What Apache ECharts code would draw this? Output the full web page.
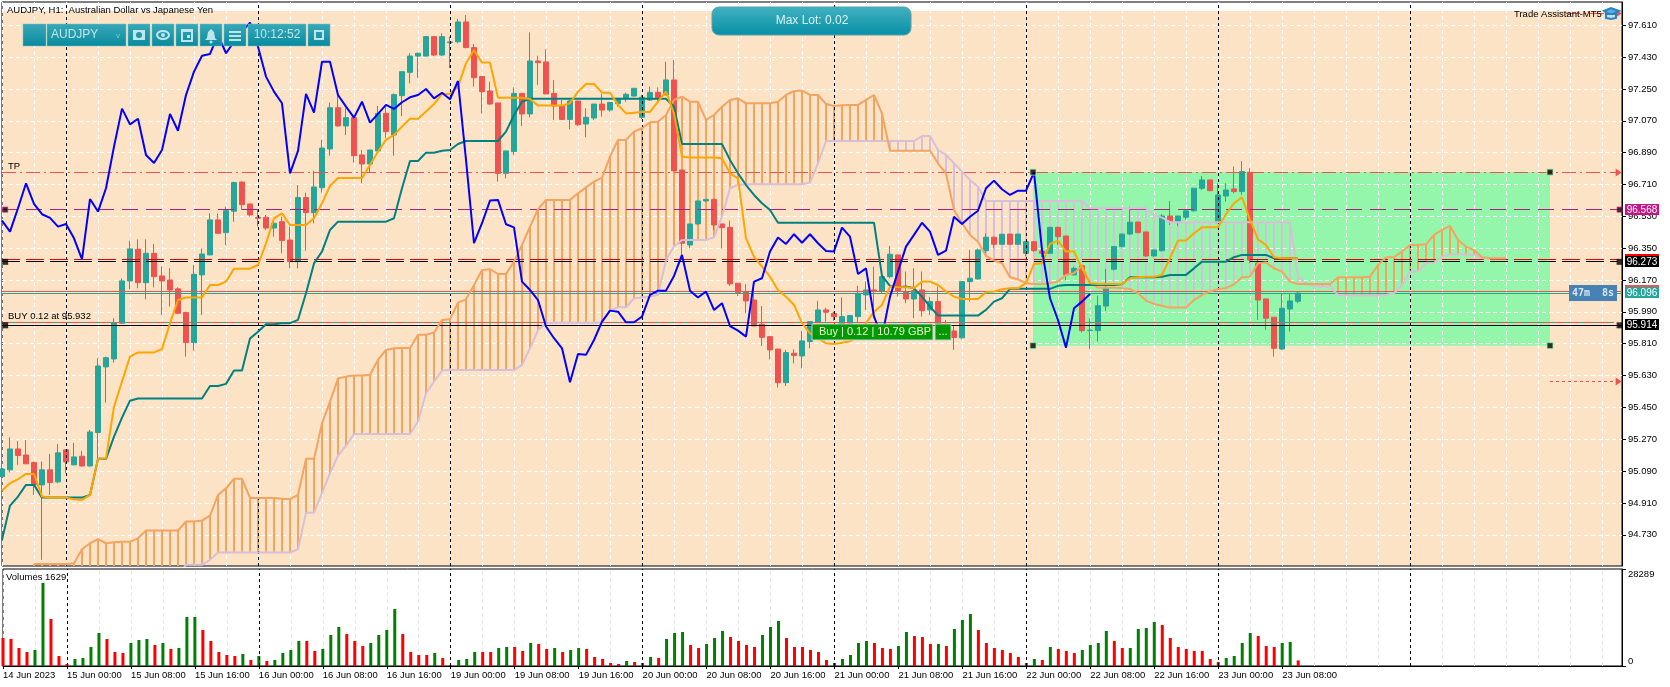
<!DOCTYPE html>
<html><head><meta charset="utf-8"><title>AUDJPY H1</title>
<style>html,body{margin:0;padding:0;background:#fff}#c{width:1670px;height:687px}</style>
<script src="https://cdn.jsdelivr.net/npm/echarts@6/dist/echarts.min.js"></script>
</head><body><div id="c"></div>
<script>
// ---------- values ----------
const priceTicks=[97.61,97.43,97.25,97.07,96.89,96.71,96.53,96.35,96.17,95.99,95.81,95.63,95.45,95.27,95.09,94.91,94.73];
const timeLabels=['14 Jun 2023','15 Jun 00:00','15 Jun 08:00','15 Jun 16:00','16 Jun 00:00','16 Jun 08:00','16 Jun 16:00','19 Jun 00:00','19 Jun 08:00','19 Jun 16:00','20 Jun 00:00','20 Jun 08:00','20 Jun 16:00','21 Jun 00:00','21 Jun 08:00','21 Jun 16:00','22 Jun 00:00','22 Jun 08:00','22 Jun 16:00','23 Jun 00:00','23 Jun 08:00'];
const dayBreaks=[8,32,56,80,104,128,152,176];
// open, close, low, high
const candles=[
[95.059,95.102,95.040,95.115],[95.097,95.215,95.082,95.281],[95.215,95.178,95.125,95.260],[95.181,95.131,95.131,95.266],[95.138,95.012,94.955,95.144],
[95.012,95.097,94.588,95.144],[95.097,95.025,94.955,95.187],[95.029,95.193,95.021,95.243],[95.210,95.142,95.078,95.210],[95.125,95.170,95.125,95.249],
[95.174,95.119,95.115,95.204],[95.119,95.311,95.115,95.323],[95.308,95.684,95.163,95.728],[95.679,95.731,95.477,95.737],[95.724,95.929,95.703,95.954],
[95.926,96.165,95.922,96.180],[96.165,96.346,96.118,96.393],[96.344,96.155,96.123,96.400],[96.155,96.321,96.061,96.400],[96.321,96.189,96.129,96.374],
[96.193,96.165,95.973,96.246],[96.170,96.114,96.020,96.236],[96.120,95.982,95.982,96.129],[95.986,95.816,95.737,95.991],[95.816,96.202,95.771,96.255],
[96.199,96.317,95.973,96.349],[96.312,96.510,96.312,96.547],[96.510,96.434,96.434,96.547],[96.438,96.562,96.368,96.585],[96.559,96.721,96.500,96.726],
[96.724,96.596,96.566,96.726],[96.600,96.538,96.528,96.600],[96.525,96.519,96.472,96.566],[96.525,96.464,96.453,96.538],[96.464,96.491,96.415,96.519],
[96.500,96.393,96.321,96.528],[96.396,96.274,96.236,96.472],[96.274,96.636,96.236,96.707],[96.636,96.551,96.336,96.664],[96.551,96.696,96.491,96.788],
[96.692,96.916,96.664,96.962],[96.911,97.144,96.873,97.173],[97.144,97.041,97.037,97.225],[97.041,97.088,96.990,97.141],[97.088,96.873,96.834,97.094],
[96.877,96.826,96.717,96.905],[96.826,96.905,96.779,96.905],[96.900,97.112,96.886,97.154],[97.112,97.009,96.971,97.150],[96.990,97.218,96.873,97.225],
[97.212,97.348,97.097,97.348],[97.344,97.436,97.282,97.452],[97.436,97.452,97.314,97.455],[97.436,97.546,97.433,97.546],[97.546,97.442,97.436,97.546],
[97.442,97.546,97.436,97.565],[97.512,97.516,97.367,97.546],[97.517,97.629,97.508,97.646],[97.629,97.484,97.480,97.668],[97.484,97.314,97.263,97.504],
[97.320,97.235,97.112,97.320],[97.239,97.165,97.160,97.291],[97.171,96.773,96.726,97.171],[96.773,96.900,96.745,96.900],[96.896,97.225,96.877,97.259],
[97.225,97.109,97.041,97.225],[97.109,97.408,97.090,97.570],[97.408,97.399,97.273,97.438],[97.403,97.222,97.222,97.474],[97.225,97.154,97.075,97.301],
[97.154,97.078,97.078,97.188],[97.078,97.182,97.022,97.188],[97.182,97.048,97.041,97.182],[97.052,97.090,96.977,97.141],[97.086,97.165,97.075,97.165],
[97.165,97.131,97.094,97.222],[97.131,97.173,97.122,97.173],[97.167,97.197,97.150,97.197],[97.197,97.220,97.178,97.229],[97.210,97.254,97.207,97.254],
[97.090,97.203,97.080,97.216],[97.188,97.231,97.182,97.263],[97.231,97.197,97.178,97.259],[97.216,97.301,97.216,97.404],[97.301,96.787,96.787,97.414],
[96.792,96.378,96.312,96.792],[96.368,96.487,96.349,96.487],[96.487,96.617,96.481,96.617],[96.617,96.626,96.611,96.626],[96.626,96.481,96.453,96.626],
[96.487,96.466,96.349,96.487],[96.468,96.148,96.137,96.506],[96.152,96.099,96.080,96.152],[96.105,96.052,95.982,96.146],[96.057,95.910,95.910,96.161],
[95.920,95.846,95.797,96.023],[95.850,95.775,95.722,95.850],[95.780,95.590,95.562,95.780],[95.590,95.760,95.571,95.775],[95.756,95.743,95.699,95.779],
[95.741,95.826,95.671,95.882],[95.822,95.935,95.784,95.935],[95.929,96.001,95.929,96.052],[96.001,95.988,95.935,96.014],[95.982,95.963,95.940,95.991],
[95.907,95.963,95.888,96.072],[95.926,95.969,95.907,95.973],[95.963,96.095,95.926,96.137],[96.086,96.114,96.001,96.161],[96.114,96.108,95.982,96.246],
[96.105,96.189,96.095,96.199],[96.189,96.316,96.180,96.363],[96.312,96.110,96.076,96.312],[96.105,96.063,96.039,96.218],[96.063,96.110,95.954,96.236],
[96.114,95.997,95.963,96.218],[96.001,96.048,95.973,96.076],[96.048,95.910,95.897,96.133],[95.916,95.882,95.860,95.944],[95.882,95.845,95.775,95.916],
[95.843,96.161,95.835,96.161],[96.161,96.180,96.048,96.340],[96.176,96.340,96.174,96.349],[96.336,96.412,96.321,96.434],[96.412,96.372,96.349,96.415],
[96.372,96.429,96.372,96.429],[96.430,96.372,96.372,96.430],[96.372,96.430,96.372,96.430],[96.321,96.387,96.306,96.387],[96.387,96.336,96.330,96.387],
[96.334,96.321,96.300,96.340],[96.321,96.468,96.321,96.468],[96.468,96.415,96.368,96.472],[96.419,96.199,96.170,96.419],[96.199,96.236,96.199,96.245],
[96.251,95.884,95.873,96.251],[95.884,95.886,95.779,95.954],[95.884,96.025,95.822,96.082],[96.023,96.123,95.995,96.233],[96.231,96.359,96.223,96.359],
[96.359,96.430,96.355,96.430],[96.430,96.497,96.425,96.585],[96.498,96.438,96.434,96.498],[96.442,96.306,96.302,96.442],[96.306,96.340,96.302,96.340],
[96.336,96.532,96.332,96.543],[96.532,96.500,96.481,96.617],[96.500,96.532,96.476,96.532],[96.525,96.561,96.510,96.561],[96.561,96.689,96.557,96.689],
[96.689,96.736,96.679,96.758],[96.736,96.675,96.673,96.736],[96.494,96.651,96.494,96.717],[96.645,96.679,96.613,96.717],[96.685,96.670,96.660,96.811],
[96.670,96.783,96.651,96.843],[96.779,96.283,96.265,96.802],[96.265,96.057,95.944,96.287],[96.063,95.954,95.888,96.063],[95.960,95.784,95.737,95.960],
[95.780,96.010,95.775,96.091],[96.006,96.052,95.878,96.091],[96.050,96.096,96.039,96.105]];
const tenkan=[94.980,95.021,95.044,95.074,95.074,94.946,94.940,94.940,94.940,94.931,
94.927,94.955,95.159,95.162,95.454,95.596,95.737,95.761,95.761,95.761,
95.780,95.926,96.057,96.071,96.071,96.071,96.142,96.142,96.161,96.234,
96.234,96.234,96.255,96.378,96.519,96.547,96.481,96.481,96.481,96.519,
96.604,96.702,96.747,96.747,96.747,96.747,96.820,96.896,96.962,96.990,
97.037,97.082,97.082,97.122,97.165,97.222,97.222,97.263,97.395,97.470,
97.399,97.399,97.201,97.201,97.201,97.201,97.193,97.156,97.156,97.156,
97.156,97.169,97.235,97.278,97.278,97.229,97.229,97.160,97.112,97.116,
97.120,97.120,97.178,97.235,97.112,96.868,96.862,96.862,96.862,96.862,
96.858,96.773,96.745,96.406,96.302,96.246,96.189,96.114,96.076,96.029,
95.926,95.869,95.841,95.812,95.809,95.816,95.824,95.850,95.926,95.991,
96.029,96.133,96.129,96.129,96.125,96.161,96.161,96.142,96.105,96.076,
96.063,96.063,96.063,96.101,96.105,96.118,96.123,96.123,96.152,96.261,
96.265,96.374,96.393,96.331,96.331,96.236,96.152,96.148,96.148,96.148,
96.148,96.180,96.186,96.189,96.189,96.199,96.293,96.393,96.393,96.434,
96.468,96.468,96.468,96.543,96.604,96.638,96.510,96.400,96.368,96.299,
96.293,96.293,96.293];
const kijun=[94.701,94.895,94.946,95.012,95.012,94.940,94.940,94.940,94.940,94.940,
94.940,94.955,95.159,95.159,95.285,95.392,95.488,95.500,95.500,95.500,
95.500,95.500,95.500,95.500,95.500,95.500,95.571,95.571,95.583,95.658,
95.658,95.839,95.878,95.920,95.920,95.926,95.926,95.945,96.095,96.264,
96.331,96.453,96.500,96.500,96.500,96.500,96.500,96.500,96.500,96.519,
96.689,96.843,96.843,96.890,96.890,96.901,96.905,96.939,96.956,96.956,
96.956,96.956,96.956,97.009,97.103,97.178,97.195,97.195,97.195,97.195,
97.195,97.195,97.195,97.195,97.195,97.195,97.195,97.195,97.195,97.195,
97.195,97.195,97.195,97.195,97.150,96.939,96.939,96.939,96.939,96.939,
96.939,96.849,96.773,96.707,96.651,96.604,96.566,96.494,96.494,96.494,
96.494,96.494,96.494,96.494,96.494,96.494,96.494,96.494,96.494,96.494,
96.193,96.137,96.129,96.133,96.123,96.076,96.020,95.969,95.969,95.969,
95.969,95.969,95.969,96.001,96.048,96.067,96.120,96.120,96.120,96.120,
96.120,96.120,96.137,96.142,96.142,96.142,96.142,96.142,96.142,96.142,
96.146,96.186,96.186,96.186,96.186,96.189,96.199,96.199,96.199,96.236,
96.274,96.274,96.274,96.274,96.299,96.312,96.312,96.312,96.312,96.293,
96.293,96.293,96.293];
const chikou=[96.506,96.444,96.576,96.717,96.600,96.542,96.521,96.472,96.487,96.406,
96.287,96.628,96.557,96.689,96.924,97.139,97.050,97.082,96.877,96.832,
96.905,97.109,97.014,97.216,97.348,97.438,97.448,97.555,97.452,97.517,
97.574,97.625,97.489,97.320,97.235,97.169,96.773,96.900,97.222,97.116,
97.404,97.404,97.216,97.150,97.088,97.178,97.060,97.109,97.160,97.137,
97.175,97.203,97.216,97.250,97.197,97.229,97.192,97.295,96.849,96.378,
96.491,96.619,96.623,96.485,96.468,96.161,96.114,96.057,95.907,95.841,
95.784,95.592,95.752,95.747,95.831,95.935,95.997,95.991,95.931,95.931,
95.963,96.086,96.110,96.110,96.193,96.312,96.110,96.071,96.105,96.001,
96.039,95.910,95.884,95.850,96.161,96.180,96.331,96.410,96.374,96.429,
96.381,96.429,96.378,96.334,96.331,96.466,96.415,96.204,96.236,95.963,
95.850,96.076,96.218,96.359,96.425,96.494,96.444,96.312,96.336,96.528,
96.487,96.528,96.562,96.689,96.732,96.683,96.651,96.675,96.675,96.779,
96.340,96.067,95.944,95.788,96.010,96.048,96.091];
const senkouA=[null,null,null,null,94.565,94.565,94.565,94.565,94.565,94.569,
94.648,94.682,94.705,94.682,94.688,94.691,94.691,94.710,94.754,94.754,
94.754,94.754,94.754,94.805,94.805,94.810,94.838,94.955,94.993,95.046,
95.046,94.938,94.938,94.938,94.938,94.934,94.931,94.955,95.159,95.159,
95.360,95.483,95.613,95.624,95.630,95.630,95.634,95.718,95.775,95.784,
95.786,95.786,95.860,95.860,95.873,95.944,95.948,96.042,96.061,96.142,
96.227,96.231,96.204,96.204,96.274,96.368,96.472,96.570,96.623,96.623,
96.623,96.623,96.660,96.694,96.726,96.749,96.868,96.962,96.962,97.009,
97.028,97.062,97.065,97.103,97.188,97.207,97.178,97.178,97.075,97.103,
97.150,97.188,97.197,97.169,97.169,97.169,97.169,97.178,97.216,97.239,
97.241,97.216,97.216,97.165,97.154,97.158,97.160,97.160,97.188,97.216,
97.112,96.901,96.901,96.901,96.901,96.901,96.901,96.830,96.773,96.566,
96.491,96.425,96.387,96.306,96.280,96.265,96.186,96.174,96.152,96.148,
96.148,96.152,96.161,96.199,96.208,96.250,96.152,96.127,96.127,96.127,
96.123,96.120,96.095,96.054,96.035,96.025,96.014,96.014,96.014,96.057,
96.086,96.105,96.120,96.123,96.146,96.186,96.189,96.265,96.270,96.236,
96.218,96.161,96.148,96.148,96.148,96.148,96.148,96.186,96.186,96.186,
96.186,96.189,96.255,96.299,96.299,96.331,96.368,96.368,96.372,96.425,
96.453,96.476,96.396,96.359,96.340,96.299,96.293,96.293,96.293];
const senkouB=[94.50,94.50,94.50,94.50,94.50,94.50,94.50,94.50,94.50,94.50,
94.50,94.50,94.50,94.50,94.50,94.50,94.50,94.50,94.50,94.50,
94.50,94.50,94.50,94.560,94.560,94.560,94.588,94.630,94.630,94.630,
94.630,94.630,94.630,94.630,94.630,94.630,94.630,94.648,94.855,94.855,
94.965,95.078,95.178,95.234,95.300,95.300,95.300,95.300,95.300,95.300,
95.300,95.300,95.370,95.530,95.596,95.658,95.661,95.661,95.661,95.661,
95.661,95.661,95.661,95.661,95.661,95.690,95.784,95.888,95.926,95.929,
95.929,95.929,95.929,95.929,95.929,95.929,95.997,96.016,96.016,96.067,
96.071,96.076,96.086,96.283,96.359,96.396,96.396,96.396,96.396,96.411,
96.528,96.689,96.707,96.711,96.711,96.711,96.711,96.711,96.711,96.711,
96.711,96.721,96.830,96.956,96.956,96.956,96.956,96.956,96.956,96.956,
96.956,96.956,96.956,96.956,96.956,96.984,96.984,96.905,96.877,96.830,
96.783,96.736,96.698,96.617,96.617,96.617,96.617,96.617,96.617,96.617,
96.617,96.617,96.617,96.617,96.617,96.617,96.576,96.576,96.576,96.576,
96.576,96.576,96.576,96.576,96.538,96.523,96.497,96.497,96.497,96.497,
96.497,96.497,96.497,96.497,96.497,96.497,96.497,96.497,96.497,96.497,
96.497,96.497,96.189,96.148,96.138,96.133,96.133,96.086,96.082,96.082,
96.082,96.082,96.082,96.086,96.095,96.142,96.218,96.218,96.268,96.268,
96.302,96.316,96.316,96.314,96.312,96.293,96.293,96.293,96.293];
const volumes=[8165,7873,5249,4082,4666,24203,13705,2916,583,2041,
2333,5540,9623,7873,4082,3791,6707,7582,7873,6124,
6707,4957,5249,14288,14288,10498,7290,4082,3208,2916,
3499,1750,2916,1458,1750,3791,4666,7290,7290,4374,
4957,9040,11372,9331,7290,5832,6707,9040,10498,16621,
9331,4082,3208,3208,3791,2333,292,1750,2041,4082,
4082,4082,5249,5540,5540,4374,6707,6415,4957,5249,
4082,4666,5249,4957,2624,2041,875,583,1458,1166,
875,2624,2333,7873,9623,9914,6124,5249,6415,8165,
10206,8456,7290,6124,5540,9040,11372,13122,8165,5540,
5540,4666,4082,1750,875,2041,3208,6707,7290,6707,
5249,4957,5832,9914,8748,8456,6415,6415,5832,10789,
13414,15163,10498,6707,5249,4666,3791,2624,875,2041,
1750,5540,4957,4374,3791,4666,6124,6707,10206,7290,
5249,5249,10789,11081,12830,11956,8165,5540,4957,4374,
4374,2041,1166,2333,2916,6707,9623,8748,5832,5540,
6707,6998,1629];
const volumeTrend='rrrrggrrrg'+'gggrrrgggr'+'grgggrrrrr'+'grgrggggrr'+'gggrrrgggg'+'rrrrgrrggg'+'rrggrrgrrg'+'rggrrrrrgr'+'rgrgggrrgg'+'grrrrgggrr'+'rrrrrggggr'+'rrggrrrgrg'+'ggrrrrrrrg'+'rgrrrggggr'+'rggggrrrrr'+'rrrggggrrr'+'ggr';
const tpPrice=96.78, tpUpperPrice=97.674, slPrice=95.599, floorPrice=95.799;
const pivotPrice=96.568, blackPrice=96.273, redPrice=96.286;
const askPrice=96.107, bidPrice=96.096, entryPrice=95.932, positionPrice=95.914;
const boxFrom=128.875, boxTo=193.5;
const volumeAxisMax=28289;

// ---------- axis frames ----------
const yMin=94.5534,yMax=97.7417,xMax=202.5,peachTop=97.691;
const font='"Liberation Sans",Arial,sans-serif';
const UP='#26A69A',DOWN='#EF5350';

const pts=a=>a.map((v,i)=>v==null?null:[i,v]).filter(Boolean);
function ind(name,arr,color,z){return {name,type:'line',data:pts(arr),showSymbol:false,symbol:'none',z,xAxisIndex:0,yAxisIndex:0,
  lineStyle:{color,width:2},itemStyle:{color},animation:false,silent:true,clip:true};}
function level(price,from,to,color,dash,width,arrow,z){
  return {type:'custom',z:z||5,silent:true,xAxisIndex:0,yAxisIndex:0,data:[[from,price,to]],encode:{x:[0,2],y:1},
    renderItem(p,api){
      const a=api.coord([api.value(0),api.value(1)]),b=api.coord([api.value(2),api.value(1)]);
      const y=Math.floor(a[1])+0.5;
      const children=[{type:'line',shape:{x1:a[0],y1:y,x2:b[0],y2:y},style:{stroke:color,lineWidth:width||1,lineDash:dash||null,fill:null}}];
      if(arrow)children.push({type:'polygon',shape:{points:[[b[0]-4,y-4],[b[0]+2,y],[b[0]-4,y+4]]},style:{fill:color}});
      return {type:'group',children};
    }};
}
function rectSeries(rows,z,color){return {type:'custom',z,silent:true,xAxisIndex:0,yAxisIndex:0,clip:true,data:rows,
  encode:{x:[0,2],y:[1,3]},renderItem(p,api){
    const a=api.coord([api.value(0),api.value(1)]),b=api.coord([api.value(2),api.value(3)]);
    return {type:'rect',shape:{x:a[0],y:a[1],width:b[0]-a[0],height:b[1]-a[1]},style:{fill:color}};}};}

const hatchRows=senkouB.map((b,i)=>[i,senkouA[i]==null?null:senkouA[i],b]).filter(r=>r[1]!=null&&Math.abs(r[1]-r[2])>0.0005);
const gridDash=[4,3];
const volGridMarks=[];for(let i=0;i<=200;i+=4){if(!dayBreaks.includes(i))volGridMarks.push({xAxis:i,lineStyle:{color:'#E6E6E6',type:[4,3],width:1}});}
const dayMarks=dayBreaks.map(d=>({xAxis:d,lineStyle:{color:'#000',type:[3,3],width:1}}));
const timeIdx=timeLabels.map((_,i)=>i*8);

const option={animation:false,backgroundColor:'#fff',
 grid:[{left:2,top:2,width:1620,height:564,show:true,borderColor:'#000',borderWidth:1,backgroundColor:'transparent'},
       {left:2,top:569,width:1620,height:97,show:true,borderColor:'#000',borderWidth:1,backgroundColor:'transparent'}],
 xAxis:[
  {type:'value',gridIndex:0,min:0,max:xMax,interval:4,axisLine:{show:false},axisTick:{show:false},axisLabel:{show:false},
   splitLine:{show:true,lineStyle:{color:'#fff',type:gridDash,width:1}}},
  {type:'value',gridIndex:1,min:0,max:xMax,axisLine:{show:true,onZero:false,lineStyle:{color:'#000'}},
   axisTick:{show:true,length:3,customValues:timeIdx,lineStyle:{color:'#000'}},splitLine:{show:false},
   axisLabel:{show:true,customValues:timeIdx,margin:4,align:'left',color:'#000',fontFamily:font,fontSize:9.5,hideOverlap:false,showMinLabel:true,showMaxLabel:true,
     formatter:v=>timeLabels[Math.round(v/8)]||''}}
 ],
 yAxis:[
  {type:'value',gridIndex:0,position:'right',min:yMin,max:yMax,axisLine:{show:true,onZero:false,lineStyle:{color:'#000'}},
   axisTick:{show:true,length:4,customValues:priceTicks,lineStyle:{color:'#000'}},
   axisLabel:{show:true,customValues:priceTicks,margin:6,color:'#000',fontFamily:font,fontSize:9.5,formatter:v=>v.toFixed(3)},
   splitLine:{show:true,lineStyle:{color:'#fff',type:gridDash,width:1}}},
  {type:'value',gridIndex:1,position:'right',min:0,max:volumeAxisMax,axisLine:{show:true,onZero:false,lineStyle:{color:'#000'}},
   axisTick:{show:true,length:4,customValues:[0,volumeAxisMax],lineStyle:{color:'#000'}},splitLine:{show:false},
   axisLabel:{show:true,customValues:[0,volumeAxisMax],margin:6,color:'#000',fontFamily:font,fontSize:9.5,verticalAlignMinLabel:'bottom',verticalAlignMaxLabel:'top',formatter:v=>String(v)}}
 ],
 series:[
  rectSeries([[0,peachTop,xMax,yMin]],-3,'#FDE3C5'),
  rectSeries([[boxFrom,tpPrice,boxTo,floorPrice]],-2,'#94F6AB'),
  {type:'custom',z:2,silent:true,xAxisIndex:0,yAxisIndex:0,clip:true,data:hatchRows,encode:{x:0,y:[1,2]},
   renderItem(p,api){const a=api.coord([api.value(0),api.value(1)]),b=api.coord([api.value(0),api.value(2)]);
     const up=api.value(1)>api.value(2);
     return {type:'rect',shape:{x:Math.round(a[0])-1,y:Math.min(a[1],b[1]),width:2,height:Math.abs(a[1]-b[1])},style:{fill:up?'#F4A460':'#D8BFD8'}};}},
  {type:'candlestick',z:3,silent:true,xAxisIndex:0,yAxisIndex:0,barWidth:5,encode:{x:0,y:[1,2,3,4]},
   data:candles.map((c,i)=>[i,c[0],c[1],c[2],c[3]]),
   itemStyle:{color:UP,color0:DOWN,borderColor:UP,borderColor0:DOWN,borderWidth:1},
   markLine:{silent:true,symbol:'none',label:{show:false},animation:false,data:dayMarks}},
  level(pivotPrice,0,202,'#B0207F',[16,8]),
  level(redPrice,0,202,'#E00000',[18,6]),
  level(blackPrice,0,202,'#000',[18,6]),
  level(askPrice,0,xMax,DOWN),
  level(bidPrice,0,xMax,UP),
  level(entryPrice,0,xMax-1,UP),
  level(entryPrice,0,xMax-1,DOWN,[9,5]),
  level(positionPrice,0,xMax,'#000'),
  level(tpPrice,0,202.2,DOWN,[14,4,2,4],1,true),
  level(tpUpperPrice,boxTo+2,202.2,DOWN,[14,4,2,4],1,true),
  level(slPrice,boxTo,202.2,DOWN,[3,3],1,true),
  ind('senkouB',senkouB,'#D8BFD8',6),
  ind('senkouA',senkouA,'#F4A460',6),
  ind('kijun',kijun,'#008080',7),
  ind('tenkan',tenkan,'#FFA500',7),
  ind('chikou',chikou,'#0000FF',8),
  {type:'scatter',z:9,silent:true,xAxisIndex:0,yAxisIndex:0,symbol:'rect',symbolSize:6,itemStyle:{color:'#000',borderColor:'#94F6AB',borderWidth:1},
   data:[[boxFrom,tpPrice],[boxTo,tpPrice],[boxFrom,floorPrice],[boxTo,floorPrice]]},
  {type:'scatter',z:9,silent:true,xAxisIndex:0,yAxisIndex:0,symbol:'rect',symbolSize:6,clip:false,itemStyle:{color:'#000'},
   data:[[0.4,blackPrice],[0.4,positionPrice],[202.2,blackPrice],[202.2,positionPrice]]},
  {type:'scatter',z:9,silent:true,xAxisIndex:0,yAxisIndex:0,symbol:'rect',symbolSize:5,itemStyle:{color:'#000',borderColor:'#C71585',borderWidth:1},
   data:[[0.4,pivotPrice],[202.2,pivotPrice]]},
  {type:'line',xAxisIndex:1,yAxisIndex:1,z:1,silent:true,symbol:'none',showSymbol:false,lineStyle:{opacity:0},data:[[0,0]],
   markLine:{z:1,silent:true,symbol:'none',label:{show:false},animation:false,data:volGridMarks}},
  {type:'bar',xAxisIndex:1,yAxisIndex:1,barWidth:3,silent:true,z:3,
   data:volumes.map((v,i)=>({value:[i,v],itemStyle:{color:volumeTrend[i]==='g'?'#008000':'#FF0000'}})),
   markLine:{silent:true,symbol:'none',label:{show:false},animation:false,data:dayMarks}}
 ]
};
const chart=echarts.init(document.getElementById('c'),null,{renderer:'canvas'});
chart.setOption(option);

// ---------- platform widgets drawn over the chart ----------
const py=p=>chart.convertToPixel({xAxisIndex:0,yAxisIndex:0},[0,p])[1];
const Z=100;
function tag(price,bg,strip){const y=Math.round(py(price)),out=[
  {type:'rect',z:Z,silent:true,shape:{x:1625,y:y-6,width:34,height:11},style:{fill:bg}},
  {type:'text',z:Z+1,silent:true,x:1642,y:y,style:{text:price.toFixed(3),fill:'#fff',font:'10px '+font,align:'center',verticalAlign:'middle'}}];
  if(strip)out.push({type:'rect',z:Z,silent:true,shape:{x:1625,y:y-8,width:34,height:2},style:{fill:strip}});
  return out;}
const tealGrad={type:'linear',x:0,y:0,x2:0,y2:1,colorStops:[{offset:0,color:'#38A9B8'},{offset:1,color:'#0A8A9E'}]};
const light='#BFE6EA';
function cell(x,w){return {type:'rect',z:Z,silent:true,shape:{x,y:24,width:w,height:22},style:{fill:tealGrad,stroke:'#6FC0CB',lineWidth:0.5}};}
const txt=(s,x,y,size,fill,align,extra)=>Object.assign({type:'text',z:Z+1,silent:true,x,y,style:{text:s,fill,font:size+'px '+font,align:align||'left',verticalAlign:'middle'}},extra||{});
const shape=(type,sh,fill,stroke)=>({type,z:Z+1,silent:true,shape:sh,style:{fill:fill||'none',stroke:stroke||null,lineWidth:stroke?2:0}});
const widgets=[
  txt('AUDJPY, H1:  Australian Dollar vs Japanese Yen',7,10,9.5,'#000'),
  txt('TP',8,166,9.5,'#000'),
  txt('BUY 0.12 at 95.932',8,316,9.5,'#000'),
  txt('Volumes 1629',6,577,9.5,'#000'),
  txt('Trade Assistant-MT5',1514,14,9.5,'#000'),
  // graduation cap
  shape('polygon',{points:[[1604,11],[1611,8],[1619,11],[1611,15]]},'#5AAEE0','#2B82C0'),
  shape('polygon',{points:[[1606,14],[1616,14],[1616,18],[1611,19],[1606,18]]},'#BFE0F5','#2B82C0'),
  // toolbar
  cell(23,23),cell(47,79),cell(128,22),cell(152,22),cell(176,22),cell(200,22),cell(224,22),cell(248,58),cell(308,22),
  txt('AUDJPY',51,35,12,light),
  txt('v',118,36,8,'#7CC8D2','center'),
  txt('10:12:52',277,35,12,light,'center'),
  // camera
  shape('rect',{x:133,y:30,width:12,height:10},light),shape('circle',{cx:139,cy:35,r:3},'#1E97A9'),
  // eye
  shape('ellipse',{cx:163,cy:35,rx:6,ry:4},'none',light),shape('circle',{cx:163,cy:35,r:2},light),
  // calendar
  shape('rect',{x:182,y:30,width:10,height:11},'none',light),shape('rect',{x:182,y:29,width:10,height:3},light),shape('rect',{x:187,y:35,width:3,height:3},light),
  // bell
  shape('polygon',{points:[[211,29],[214,32],[215,38],[217,40],[205,40],[207,38],[208,32]]},light),shape('circle',{cx:211,cy:42,r:1.5},light),
  // menu
  shape('rect',{x:229,y:31,width:12,height:2},light),shape('rect',{x:229,y:35,width:12,height:2},light),shape('rect',{x:229,y:39,width:12,height:2},light),
  // window
  shape('rect',{x:315,y:31,width:8,height:8},'none',light),
  // Max Lot button
  {type:'rect',z:Z,silent:true,shape:{x:712,y:7,width:199,height:28,r:7},style:{fill:{type:'linear',x:0,y:0,x2:0,y2:1,colorStops:[{offset:0,color:'#42B2C0'},{offset:1,color:'#078FA5'}]},stroke:'#5A9FAA',lineWidth:1}},
  txt('Max Lot: 0.02',812,21,12,'#D8F2F4','center'),
  // trade label
  {type:'rect',z:Z,silent:true,shape:{x:812,y:324,width:121,height:16},style:{fill:'#009A00',stroke:'#C6CDD2',lineWidth:1}},
  txt('Buy | 0.12 | 10.79 GBP',819,332,11,'#F0F5D8'),
  {type:'rect',z:Z,silent:true,shape:{x:935,y:324,width:16,height:16},style:{fill:'#009A00',stroke:'#C6CDD2',lineWidth:1}},
  txt('...',943,332,11,'#F0F5D8','center'),
  // countdown
  {type:'rect',z:Z,silent:true,shape:{x:1569,y:285,width:48,height:16},style:{fill:'#4682B4'}},
  {type:'text',z:Z+1,silent:true,x:1593,y:293,style:{text:'47m  8s',fill:'#D6E6F5',font:'bold 10px "DejaVu Sans Mono",monospace',align:'center',verticalAlign:'middle'}},
  ...tag(pivotPrice,'#C71585'),
  ...tag(blackPrice,'#000','#FF0000'),
  ...tag(bidPrice,UP,DOWN),
  ...tag(positionPrice,'#000')
];
chart.setOption({graphic:{elements:widgets}});
</script></body></html>
